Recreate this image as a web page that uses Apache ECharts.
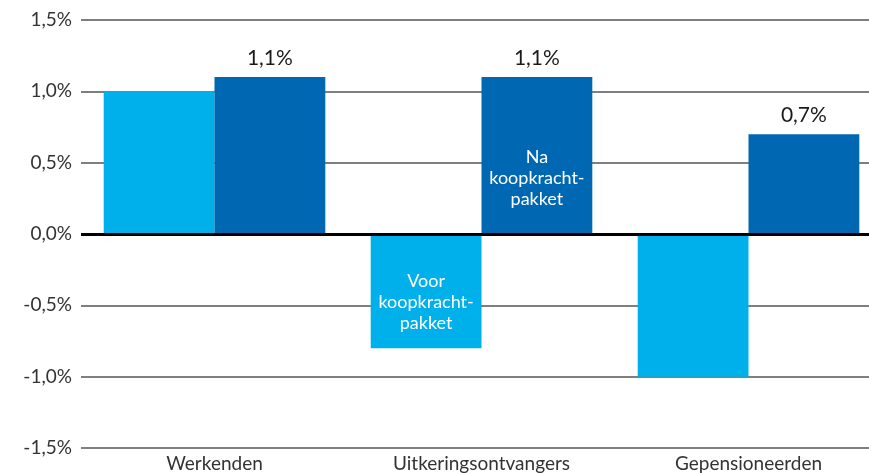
<!DOCTYPE html>
<html>
<head>
<meta charset="utf-8">
<script src="https://cdn.jsdelivr.net/npm/echarts@6/dist/echarts.min.js"></script>
<style>
html,body{margin:0;padding:0;background:#fff;overflow:hidden;width:869px;height:473px;}
#chart{width:882px;height:473px;}
</style>
</head>
<body>
<div id="chart"></div>
<script>
const categories = ['Werkenden', 'Uitkeringsontvangers', 'Gepensioneerden'];
const voorValues = [1.0, -0.8, -1.0];
const naValues = [1.1, 1.1, 0.7];
const seriesNames = ['Voor koopkrachtpakket', 'Na koopkrachtpakket'];
const insideLabelVoor = 'Voor\nkoopkracht-\npakket';
const insideLabelNa = 'Na\nkoopkracht-\npakket';
const yMin = -1.5, yMax = 1.5, yStep = 0.5;

const FONT = 'Lato';
const fmt = v => v.toFixed(1).replace('.', ',') + '%';
const lightBlue = '#00b0ea';
const darkBlue = '#0068b2';

const chart = echarts.init(document.getElementById('chart'));

const voorData = voorValues.map((v, i) => {
  if (i === 1) {
    return {value: v, label: {show: true, position: 'inside', offset: [0, 11], formatter: insideLabelVoor,
      color: '#fff', fontFamily: FONT, fontSize: 18, lineHeight: 21}};
  }
  return v;
});
const naOverlay = naValues.map((v, i) => {
  if (i === 1) {
    return {value: v, label: {show: true, position: 'inside', offset: [0, 23], formatter: insideLabelNa,
      color: '#fff', fontFamily: FONT, fontSize: 18, lineHeight: 21}};
  }
  return v;
});

const barCommon = {type: 'bar', barGap: 0, barCategoryGap: '17%', silent: true};

chart.setOption({
  animation: false,
  grid: {left: 81, top: 20, right: 0, bottom: 25, containLabel: false},
  xAxis: [
    {type: 'category', data: categories, axisLine: {show: false}, axisTick: {show: false},
     axisLabel: {color: '#333', fontFamily: FONT, fontSize: 19, margin: 6}},
    {type: 'category', data: categories, show: false}
  ],
  yAxis: [
    {type: 'value', min: yMin, max: yMax, interval: yStep,
     axisLine: {show: false}, axisTick: {show: false},
     axisLabel: {color: '#333', fontFamily: FONT, fontSize: 19, margin: 9, formatter: fmt},
     splitLine: {show: true, lineStyle: {color: '#555', width: 1.5}}},
    {type: 'value', min: yMin, max: yMax, interval: yStep, show: false}
  ],
  series: [
    Object.assign({}, barCommon, {name: seriesNames[0], data: voorData, itemStyle: {color: lightBlue},
      markLine: {silent: true, symbol: 'none', label: {show: false},
        lineStyle: {color: '#000', width: 3, type: 'solid'}, data: [{yAxis: 0}]}}),
    Object.assign({}, barCommon, {name: seriesNames[1], data: naValues, itemStyle: {color: darkBlue},
      label: {show: true, position: 'top', distance: 8, color: '#1a1a1a', fontFamily: FONT, fontSize: 21,
        formatter: p => fmt(p.value)}}),
    Object.assign({}, barCommon, {xAxisIndex: 1, yAxisIndex: 1, data: voorValues.map(() => '-'),
      itemStyle: {color: 'rgba(0,0,0,0)'}}),
    Object.assign({}, barCommon, {xAxisIndex: 1, yAxisIndex: 1, data: naOverlay,
      itemStyle: {color: 'rgba(0,0,0,0)'}, z: 5})
  ]
});
</script>
</body>
</html>
